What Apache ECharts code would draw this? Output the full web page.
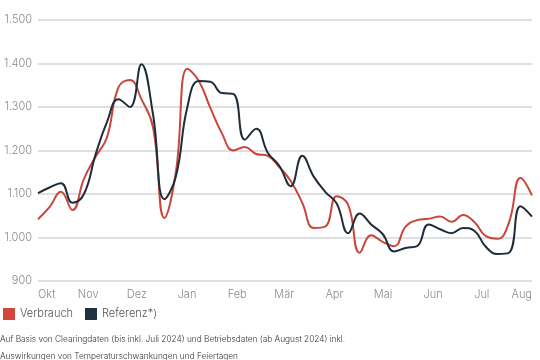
<!DOCTYPE html>
<html>
<head>
<meta charset="utf-8">
<script src="https://cdn.jsdelivr.net/npm/echarts@6/dist/echarts.min.js"></script>
<style>html,body{margin:0;padding:0;background:#fff}#c{width:540px;height:360px}</style>
</head>
<body>
<div id="c"></div>
<script>
// Tick labels (months, German)
const monthLabels = ['Okt','Nov','Dez','Jan','Feb','Mär','Apr','Mai','Jun','Jul','Aug'];
const periodStart = [2023, 9, 1];   // 1 Okt 2023
const periodEnd = [2024, 7, 1];     // 1 Aug 2024
const yTicks = [900, 1000, 1100, 1200, 1300, 1400, 1500];
const seriesNames = ['Verbrauch', 'Referenz*)'];

// Weekly values
const verbrauch = [1042,1070,1105,1063,1135,1185,1230,1345,1362,1318,1255,1045,1150,1388,1360,1298,1240,1200,1208,1192,1188,1162,1130,1080,1022,1025,1095,1075,965,1005,990,980,1025,1040,1043,1048,1036,1052,1035,1003,997,1035,1137,1097];
const referenz  = [1102,1115,1125,1080,1100,1190,1265,1318,1300,1398,1285,1088,1140,1300,1360,1358,1332,1330,1225,1250,1195,1165,1118,1188,1140,1105,1078,1010,1055,1030,1008,968,976,980,1030,1019,1010,1022,1015,978,962,965,1072,1048];

const footnote1 = 'Auf Basis von Clearingdaten (bis inkl. Juli 2024) und Betriebsdaten (ab August 2024) inkl.';
const footnote2 = 'Auswirkungen von Temperaturschwankungen und Feiertagen';

const DAY = 86400000;
const t0 = Date.UTC(periodStart[0], periodStart[1], periodStart[2]);
const t1 = Date.UTC(periodEnd[0], periodEnd[1], periodEnd[2]);
const totalDays = Math.round((t1 - t0) / DAY);
const n = verbrauch.length;
const dayPos = verbrauch.map((_, i) => totalDays * i / (n - 1));
const monthTicks = monthLabels.map((_, k) => Math.round((Date.UTC(periodStart[0], periodStart[1] + k, 1) - t0) / DAY));

const fmtDE = v => String(v).replace(/\B(?=(\d{3})+(?!\d))/g, '.');
const FONT = 'Inter';

const chart = echarts.init(document.getElementById('c'), null, {renderer: 'canvas'});
chart.setOption({
  animation: false,
  backgroundColor: '#ffffff',
  textStyle: {fontFamily: FONT},
  grid: {left: 38, right: 8, top: 20, bottom: 79, containLabel: false},
  legend: {
    left: -2, top: 303,
    itemWidth: 12, itemHeight: 12, itemGap: 12,
    icon: 'rect',
    textStyle: {fontFamily: FONT, fontSize: 11, color: '#555', fontWeight: 300},
    data: seriesNames
  },
  xAxis: {
    type: 'value',
    min: 0, max: totalDays,
    axisLine: {show: false},
    axisTick: {show: false},
    splitLine: {show: false},
    axisLabel: {
      customValues: monthTicks,
      showMinLabel: true, showMaxLabel: true,
      alignMinLabel: 'left', alignMaxLabel: 'right',
      margin: 8,
      color: '#8a8a8a', fontSize: 11, fontFamily: FONT, fontWeight: 300,
      formatter: v => {
        const idx = monthTicks.indexOf(Math.round(v));
        return idx >= 0 ? monthLabels[idx] : '';
      }
    }
  },
  yAxis: {
    type: 'value',
    min: yTicks[0], max: yTicks[yTicks.length - 1], interval: 100,
    axisLine: {show: false},
    axisTick: {show: false},
    splitLine: {lineStyle: {color: '#d6d6d6', width: 1.5}},
    axisLabel: {
      margin: 6,
      color: '#8a8a8a', fontSize: 11, fontFamily: FONT, fontWeight: 300,
      formatter: v => fmtDE(v)
    }
  },
  series: [
    {
      name: seriesNames[0], type: 'line', smooth: 0.45, showSymbol: false,
      data: dayPos.map((d, i) => [d, verbrauch[i]]),
      itemStyle: {color: '#d3463b'},
      lineStyle: {color: '#c9463c', width: 2}
    },
    {
      name: seriesNames[1], type: 'line', smooth: 0.45, showSymbol: false,
      data: dayPos.map((d, i) => [d, referenz[i]]),
      itemStyle: {color: '#1f3040'},
      lineStyle: {color: '#1f2d3b', width: 2}
    }
  ],
  graphic: [
    {type: 'text', left: 0, top: 336, style: {text: footnote1, fontFamily: FONT, fontSize: 8.3, fill: '#333', fontWeight: 300}},
    {type: 'text', left: 0, top: 353, style: {text: footnote2, fontFamily: FONT, fontSize: 8.3, fill: '#333', fontWeight: 300}}
  ]
});
</script>
</body>
</html>
